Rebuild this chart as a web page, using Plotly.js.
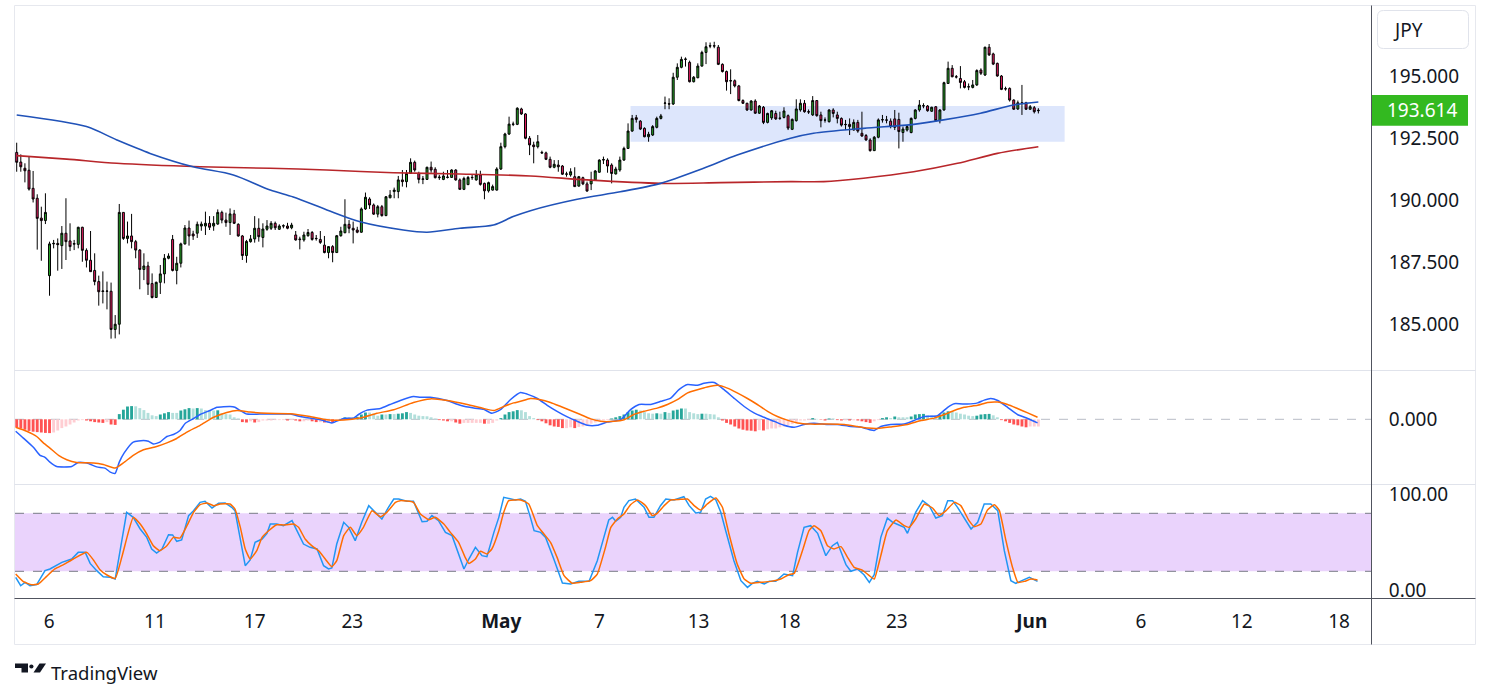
<!DOCTYPE html>
<html><head><meta charset="utf-8">
<script src="https://cdn.plot.ly/plotly-3.0.1.min.js"></script>
<style>html,body{margin:0;padding:0;background:#fff;overflow:hidden}#chart{width:1491px;height:699px}</style>
</head><body><div id="chart"></div>
<script>
// ---------- DATA (GBP/JPY, 4H bars) ----------
const open = [
191.92,191.53,191.28,191.20,190.47,190.07,189.27,189.17,186.95,188.23,
188.25,188.16,188.66,188.35,188.22,188.21,188.90,187.97,187.57,187.16,
186.71,186.31,186.33,186.32,184.78,184.99,189.50,188.45,188.55,188.32,
187.98,187.20,187.34,186.63,186.07,186.68,187.02,187.65,188.41,187.16,
187.45,188.23,188.87,188.63,188.66,188.95,188.95,189.06,188.95,189.03,
189.50,189.19,189.09,189.44,189.02,188.55,187.76,188.32,188.43,188.86,
188.49,188.82,188.86,189.06,188.82,188.95,188.95,188.88,188.59,188.40,
188.39,188.56,188.69,188.44,188.41,188.18,187.88,188.12,187.88,188.56,
188.68,189.02,188.86,188.79,188.70,189.64,190.04,189.80,189.43,189.73,
189.37,190.09,190.34,190.34,190.81,190.74,191.07,191.52,191.07,190.83,
190.83,191.32,191.24,190.90,190.83,190.91,190.91,191.21,190.81,190.43,
190.62,190.90,190.81,191.01,190.67,190.37,190.40,190.40,191.25,192.15,
192.66,193.05,193.05,193.67,193.47,192.49,192.22,192.15,191.92,191.90,
191.64,191.32,191.41,191.37,191.04,191.01,190.94,190.56,190.90,190.65,
190.65,190.81,191.12,191.61,191.61,191.41,191.05,191.21,191.61,192.08,
192.78,193.32,193.18,192.89,192.55,192.62,192.93,193.29,193.90,193.88,
193.87,194.95,195.35,195.67,195.55,194.77,194.93,195.40,195.95,196.22,
196.22,196.16,195.47,195.18,194.80,194.81,194.60,194.01,193.90,193.63,
193.99,193.50,193.74,193.13,193.31,193.49,193.29,193.33,193.40,192.85,
193.20,193.63,193.90,193.56,193.43,194.01,193.43,193.23,193.16,193.63,
193.43,193.29,193.05,193.05,192.82,193.13,192.69,192.60,192.42,191.99,
192.53,193.23,193.23,193.18,193.27,193.25,192.72,192.82,192.72,193.29,
193.63,193.79,193.79,193.58,193.76,193.20,193.63,194.70,195.31,194.97,
194.90,194.77,194.57,194.54,194.64,195.24,195.04,196.16,195.89,195.51,
195.00,194.49,194.50,194.03,193.67,193.92,193.92,193.66,193.72,193.60];
const high = [
192.31,191.84,191.48,191.75,191.17,190.23,189.73,190.27,188.32,188.39,
188.45,188.95,190.07,189.06,188.39,188.92,188.92,188.05,188.75,187.85,
186.95,187.12,186.71,186.67,185.36,189.84,189.50,189.13,189.44,188.39,
188.02,187.85,187.51,187.04,186.71,187.38,187.82,187.85,188.59,187.71,
188.28,188.99,189.17,188.76,189.13,189.13,189.53,189.35,189.35,189.62,
189.57,189.49,189.66,189.60,189.06,188.59,188.39,188.59,189.35,189.26,
189.06,189.19,189.15,189.13,189.02,189.02,189.08,189.08,188.75,188.52,
188.72,188.83,188.75,188.59,188.75,188.55,188.14,188.18,188.59,188.92,
190.03,189.19,189.13,188.92,189.70,190.30,190.11,189.86,189.80,189.80,
190.16,190.40,190.50,190.97,191.21,191.21,191.68,191.59,191.14,190.97,
191.34,191.55,191.32,191.01,191.14,191.21,191.24,191.24,190.87,190.94,
190.97,191.01,191.21,191.18,190.70,190.74,190.62,191.32,192.31,192.71,
193.36,193.16,193.74,193.72,193.50,192.58,192.35,192.62,191.99,191.95,
191.75,191.61,191.61,191.41,191.14,191.28,191.32,190.97,190.94,190.74,
191.14,191.21,191.64,191.75,191.68,191.48,191.34,191.75,192.15,193.09,
193.43,193.43,193.22,192.93,192.75,193.02,193.36,193.47,194.17,194.10,
195.13,195.51,195.78,195.75,195.62,195.00,195.51,196.02,196.36,196.35,
196.38,196.25,195.51,195.22,195.27,194.86,194.64,194.06,193.92,194.03,
194.06,193.83,193.79,193.52,193.63,193.60,193.56,193.74,193.45,193.29,
194.06,194.06,194.03,193.65,194.19,194.02,193.56,193.33,193.66,193.70,
193.56,193.33,193.23,193.29,193.25,193.23,193.56,192.66,192.49,192.58,
193.29,193.43,193.39,193.29,193.63,193.52,192.96,193.02,193.33,193.66,
194.03,193.90,193.83,193.76,193.79,193.66,194.77,195.58,195.44,195.04,
195.40,194.84,194.70,194.84,195.27,195.31,196.18,196.29,195.94,195.54,
195.04,194.57,194.54,194.06,194.01,194.64,193.96,193.83,193.79,193.70];
const low = [
191.14,191.14,190.71,190.38,189.90,188.00,187.55,189.03,186.14,188.05,
187.15,187.22,187.58,187.94,187.98,188.05,187.51,187.28,187.11,186.56,
185.74,185.83,185.59,184.41,184.42,184.58,188.39,188.25,188.05,187.65,
186.40,186.77,186.17,186.03,186.05,186.21,186.64,187.61,187.12,186.60,
187.28,188.20,188.16,188.39,188.47,188.76,188.59,188.79,188.76,189.00,
189.06,188.92,188.59,189.03,188.52,187.58,187.47,188.28,188.28,188.32,
188.09,188.76,188.79,188.79,188.79,188.86,188.82,188.82,188.36,188.01,
188.32,188.52,188.36,188.36,188.23,187.85,187.65,187.49,187.88,188.52,
188.66,188.66,188.25,188.66,188.68,189.60,189.64,189.40,189.30,189.33,
189.35,190.07,190.07,190.07,190.54,190.51,191.05,191.14,190.67,190.64,
190.81,191.10,190.87,190.81,190.80,190.87,190.90,190.78,190.41,190.40,
190.60,190.81,190.78,190.58,190.03,190.30,190.38,190.38,191.21,192.08,
192.62,192.98,193.02,193.43,192.45,191.81,191.48,192.08,191.86,191.61,
191.28,191.28,191.14,191.01,190.94,190.94,190.54,190.54,190.60,190.34,
190.40,190.78,191.10,191.45,191.10,190.67,191.03,191.14,191.58,192.06,
192.75,193.12,192.82,192.53,192.35,192.58,192.89,193.25,193.66,193.66,
193.83,194.84,195.31,195.38,194.74,194.74,194.91,195.38,195.48,196.12,
196.12,195.44,195.14,194.41,194.27,194.54,193.98,193.87,193.59,193.60,
193.47,193.47,193.06,193.09,193.23,193.23,193.23,193.29,192.82,192.82,
193.16,193.56,193.52,193.47,193.39,193.36,192.93,193.12,193.12,193.33,
193.09,192.96,192.82,192.62,192.80,192.71,192.55,192.39,191.95,191.98,
192.49,193.12,193.09,192.89,192.82,192.08,192.35,192.76,192.69,193.25,
193.56,193.70,193.56,193.55,193.16,193.09,193.60,194.68,194.95,194.90,
194.50,194.50,194.43,194.50,194.60,195.04,195.00,195.81,195.44,194.97,
194.43,194.41,193.97,193.63,193.63,193.43,193.63,193.63,193.49,193.49];
const close = [
191.52,191.34,191.18,190.44,190.04,189.26,189.17,189.50,188.23,188.25,
188.20,188.66,188.32,188.12,188.24,188.90,187.97,187.57,187.11,186.71,
186.30,186.33,186.32,184.78,184.99,189.50,188.45,188.55,188.32,187.98,
187.20,187.34,186.60,186.07,186.68,187.02,187.65,187.74,187.16,187.45,
188.23,188.87,188.55,188.55,189.02,189.03,189.06,188.90,189.06,189.50,
189.19,189.09,189.44,189.06,188.55,187.76,188.33,188.43,188.86,188.52,
188.83,188.95,189.06,188.88,188.95,188.96,188.86,188.99,188.39,188.42,
188.59,188.69,188.41,188.45,188.29,187.88,188.12,187.88,188.56,188.75,
189.02,188.86,188.79,188.70,189.64,190.11,189.80,189.43,189.73,189.37,
190.13,190.20,190.40,190.81,190.74,191.07,191.52,191.21,190.83,190.85,
191.32,191.21,190.90,190.92,190.97,190.92,191.21,190.81,190.43,190.87,
190.91,190.91,191.01,190.63,190.37,190.70,190.54,191.25,192.15,192.66,
193.06,193.06,193.70,193.47,192.49,192.22,192.15,192.35,191.90,191.64,
191.32,191.44,191.34,191.04,191.05,191.14,190.54,190.94,190.65,190.36,
190.81,191.17,191.61,191.63,191.37,191.07,191.25,191.61,192.08,192.78,
193.29,193.25,192.86,192.55,192.65,192.96,193.29,193.39,193.91,193.87,
194.95,195.35,195.67,195.68,194.77,194.95,195.40,195.95,196.18,196.21,
196.21,195.47,195.18,194.77,194.81,194.60,194.01,193.90,193.63,193.99,
193.50,193.79,193.13,193.49,193.60,193.27,193.30,193.59,192.90,193.25,
193.67,193.90,193.56,193.55,194.01,193.40,193.20,193.22,193.63,193.49,
193.29,193.02,193.04,192.96,193.13,192.78,192.58,192.42,191.99,192.53,
193.23,193.24,193.22,192.96,192.93,192.76,192.86,192.96,193.29,193.63,
193.83,193.80,193.60,193.74,193.20,193.63,194.73,195.31,194.97,194.96,
194.74,194.54,194.56,194.64,195.22,195.11,196.16,195.85,195.48,195.00,
194.46,194.48,194.03,193.66,193.92,193.90,193.66,193.76,193.56,193.614];

// moving averages (sampled along bar index)
const maBlueX = [1,18,25.4,33.5,44,53.8,62.8,68.4,76.6,84.7,95.2,101,109,117.2,122,126.2,137.6,148.1,157.9,168.4,176.6,189.6,195.2,207.4,219.6,226.9,235.9,244,250];
const maBlueY = [193.43,192.96,192.42,191.88,191.34,191.01,190.40,190.12,189.60,189.12,188.79,188.70,188.86,188.99,189.33,189.57,190.03,190.33,190.67,191.28,191.81,192.49,192.69,192.89,193.05,193.23,193.50,193.83,193.95];
const maRedX = [1,13.2,25.4,45.7,62.8,76.6,92.8,109,126.2,140,157.9,172.5,189.6,197.7,207.4,219.6,230.3,240,250];
const maRedY = [191.79,191.65,191.48,191.34,191.28,191.21,191.10,191.05,190.97,190.81,190.67,190.70,190.74,190.74,190.88,191.14,191.48,191.88,192.15];

// support zone
const zoneFrom = 150.6, zoneTo = 256.4, zoneLow = 192.35, zoneHigh = 193.79;

// MACD
const macdX = [0.75,2.62,5.06,6.69,7.9,9.1,10.75,14.4,16.0,18.1,20.5,22.5,23.8,25.0,26.0,27.2,29.4,31.9,33.1,34.3,35.9,37.6,39.2,40.8,42.1,44.1,45.7,48.1,49.8,53.0,54.2,55.5,57.1,60.3,67.7,70.1,72.5,75.0,77.8,80.7,83.1,84.3,86.4,89.6,92.0,94.5,97.7,99.4,101.8,105.9,109.1,112.4,114.8,116.8,118.9,121.3,123.8,125.4,127.9,130.3,132.7,135.2,137.6,140.1,142.5,144.9,148.2,150.6,152.7,155.5,158.0,160.4,162.4,164.5,166.9,168.5,171.0,173.4,175.8,178.3,180.7,183.1,185.6,188.0,190.5,192.9,195.3,198.6,201.0,204.3,206.7,209.2,210.0,211.6,214.0,217.3,219.7,222.2,225.4,227.9,229.5,232.7,235.2,236.8,238.4,240.1,242.5,244.9,247.4,249.8];
const macdY = [-0.30,-0.47,-0.70,-0.90,-0.95,-1.07,-1.18,-1.18,-1.08,-1.09,-1.19,-1.22,-1.32,-1.35,-1.07,-0.84,-0.57,-0.53,-0.55,-0.62,-0.57,-0.43,-0.38,-0.28,-0.10,0.02,0.12,0.22,0.30,0.32,0.30,0.22,0.13,0.13,0.13,0.07,0.03,-0.01,-0.09,0.02,0.03,0.12,0.23,0.27,0.37,0.47,0.57,0.55,0.55,0.47,0.35,0.28,0.25,0.15,0.24,0.49,0.67,0.63,0.52,0.35,0.20,0.06,-0.05,-0.15,-0.15,-0.07,-0.01,0.24,0.37,0.37,0.45,0.53,0.74,0.87,0.85,0.90,0.92,0.74,0.53,0.32,0.16,0.05,-0.05,-0.15,-0.20,-0.13,-0.10,-0.13,-0.13,-0.18,-0.19,-0.27,-0.28,-0.18,-0.13,-0.12,-0.03,0.07,0.09,0.30,0.39,0.38,0.41,0.48,0.52,0.47,0.30,0.12,0.02,-0.09];
const signalX = [0.75,3.43,5.87,7.5,9.1,11.2,13.2,15.6,19.7,22.1,25.0,27.0,29.4,31.9,35.1,37.6,40.0,42.5,45.7,49.0,52.2,54.7,57.9,62.0,67.7,72.5,76.6,80.7,84.7,88.8,92.9,97.7,101.8,105.9,110.8,114.8,117.3,119.7,122.1,123.8,126.2,128.7,131.1,133.6,136.0,138.4,140.9,143.3,146.6,149.0,151.4,153.9,157.1,159.6,162.0,164.5,166.9,169.3,171.8,174.2,176.6,179.1,181.5,184.0,186.4,188.8,191.3,194.5,198.6,202.7,205.9,208.4,210.8,214.0,218.1,221.4,224.6,227.1,229.5,231.9,235.2,237.6,240.1,242.5,244.9,247.4,249.8];
const signalY = [-0.20,-0.30,-0.43,-0.59,-0.72,-0.90,-1.01,-1.08,-1.09,-1.13,-1.22,-1.09,-0.90,-0.76,-0.68,-0.59,-0.48,-0.32,-0.15,0.05,0.17,0.22,0.18,0.15,0.14,0.07,-0.01,-0.02,0.03,0.15,0.24,0.42,0.51,0.47,0.37,0.27,0.22,0.32,0.41,0.45,0.52,0.49,0.42,0.32,0.22,0.12,0.01,-0.05,-0.05,-0.01,0.12,0.20,0.28,0.37,0.49,0.66,0.74,0.81,0.85,0.78,0.66,0.52,0.37,0.20,0.07,-0.02,-0.09,-0.12,-0.12,-0.13,-0.18,-0.22,-0.23,-0.19,-0.13,-0.03,0.03,0.12,0.22,0.30,0.35,0.42,0.43,0.37,0.27,0.16,0.05];
const histogram = [
-0.20,-0.23,-0.26,-0.29,-0.31,-0.32,-0.33,-0.34,-0.345,-0.33,-0.28,-0.22,-0.18,-0.13,-0.08,-0.03,-0.02,-0.03,-0.05,-0.07,-0.08,-0.09,-0.07,-0.13,-0.14,
0.13,0.24,0.32,0.33,0.325,0.28,0.23,0.16,0.10,0.08,0.12,0.15,0.18,0.16,0.16,0.22,0.25,0.28,0.27,0.28,0.27,0.23,0.22,0.22,0.225,
0.15,0.13,0.12,0.05,0.02,-0.07,-0.08,-0.05,-0.08,-0.07,-0.03,-0.03,-0.03,-0.02,-0.02,-0.02,-0.03,-0.02,-0.03,-0.05,-0.05,-0.03,-0.05,-0.07,-0.07,
-0.08,-0.08,-0.09,-0.03,-0.01,0.05,0.05,0.05,0.06,0.12,0.17,0.17,0.14,0.09,0.12,0.12,0.13,0.13,0.14,0.15,0.18,0.16,0.12,0.09,0.08,
0.075,0.05,0.02,-0.02,-0.03,-0.05,-0.05,-0.08,-0.11,-0.09,-0.09,-0.09,-0.09,-0.09,-0.11,-0.11,-0.09,-0.03,0.03,0.12,0.18,0.20,0.23,0.225,0.18,
0.08,0.03,-0.02,-0.05,-0.10,-0.15,-0.18,-0.19,-0.22,-0.22,-0.20,-0.22,-0.19,-0.18,-0.15,-0.11,-0.08,-0.03,-0.025,-0.02,0.02,0.05,0.08,0.12,0.18,
0.22,0.24,0.22,0.18,0.15,0.14,0.15,0.14,0.18,0.16,0.22,0.24,0.27,0.27,0.18,0.15,0.13,0.14,0.14,0.13,0.12,0.05,-0.03,-0.09,-0.13,
-0.18,-0.23,-0.26,-0.28,-0.285,-0.30,-0.27,-0.28,-0.25,-0.23,-0.23,-0.20,-0.18,-0.15,-0.12,-0.07,-0.03,-0.03,-0.02,0.03,0.01,-0.01,-0.03,0.02,0.02,
-0.02,-0.03,-0.025,-0.03,-0.025,-0.03,-0.05,-0.07,-0.09,-0.05,-0.02,0.03,0.05,0.03,0.07,0.05,0.05,0.05,0.07,0.12,0.13,0.135,0.10,0.10,0.08,
0.12,0.17,0.20,0.20,0.17,0.14,0.12,0.09,0.08,0.09,0.12,0.13,0.135,0.10,0.05,-0.02,-0.05,-0.09,-0.13,-0.15,-0.18,-0.20,-0.18,-0.18,-0.18];

// Stochastic
const stochKX = [0.75,1.97,3.03,4.25,5.87,7.9,9.1,10.3,12.0,14.4,16.0,17.7,18.9,20.5,22.1,23.8,25.0,26.2,27.8,29.4,31.1,32.7,33.9,35.1,36.4,38.0,39.0,40.0,41.2,42.9,44.1,45.7,46.9,48.6,50.2,51.8,53.4,54.2,55.5,56.7,57.9,59.1,60.8,62.0,62.8,64.4,66.0,68.1,69.3,70.9,72.5,74.2,75.8,77.0,77.8,79.0,80.7,81.9,83.5,85.1,86.8,88.4,90.0,91.6,92.9,94.1,96.1,97.7,98.6,99.8,101.0,102.2,103.8,105.5,107.1,108.3,110.0,111.2,112.8,114.4,115.6,117.3,118.5,119.7,121.3,122.5,123.8,125.0,126.2,127.1,128.7,129.9,131.9,134.0,136.0,138.0,140.5,142.5,144.1,145.3,146.2,147.0,148.2,149.0,150.2,151.8,153.9,155.1,156.3,157.9,159.2,161.2,163.6,164.9,166.5,167.7,168.9,170.1,171.4,172.6,173.8,175.8,177.5,179.1,180.3,181.5,183.2,184.4,186.0,188.0,190.1,191.3,192.9,194.5,196.2,198.2,199.8,201.0,203.1,204.3,205.9,207.5,208.8,210.0,211.6,213.2,214.5,215.7,217.3,218.1,220.1,221.8,223.4,225.0,226.6,227.9,229.1,230.3,233.6,235.2,236.8,238.4,240.1,241.7,243.3,244.5,246.2,247.8,249.8];
const stochKY = [13.8,5.1,8.6,5.1,6.2,20.7,22.4,25.1,29.3,32.7,39.6,39.6,28.2,20.7,14.4,13.8,12.0,41.3,81.0,75.8,63.8,55.1,43.1,38.9,43.1,57.9,57.6,51.0,52.4,77.6,82.7,91.3,92.4,85.5,90.3,90.7,86.2,82.7,55.1,25.8,31.7,50.0,53.4,59.3,68.9,68.9,67.2,72.4,62.0,48.2,44.8,43.1,25.8,22.4,23.4,48.2,70.7,65.5,51.7,70.7,87.9,81.0,74.1,86.2,94.8,94.8,92.4,92.4,82.7,71.3,71.7,77.6,72.4,60.3,56.9,43.1,22.4,32.7,44.8,36.2,35.1,60.3,75.8,96.5,94.8,93.8,94.8,92.4,75.8,62.0,60.3,55.1,32.7,7.9,6.9,9.6,9.6,31.0,55.1,73.1,75.8,71.7,75.8,86.2,93.1,94.8,86.2,75.8,75.8,87.9,94.8,93.8,97.2,87.9,80.3,81.0,94.8,97.6,93.8,81.0,62.0,31.0,10.3,3.4,7.6,9.6,6.9,9.6,9.6,17.2,15.5,39.6,65.5,67.2,59.3,36.2,46.5,50.0,26.9,20.0,22.4,16.5,8.6,16.5,55.1,75.1,70.7,68.2,65.5,59.3,81.0,93.1,87.9,75.1,77.6,93.1,93.1,86.2,63.8,70.7,89.6,89.6,82.7,41.3,10.3,7.6,11.0,13.8,9.6];
const stochDX = [0.75,2.62,4.65,6.28,8.3,10.3,12.4,14.8,18.1,19.7,21.3,23.0,25.0,26.6,28.2,29.4,31.1,32.7,34.3,35.9,37.6,39.2,40.8,42.5,44.1,45.7,47.3,49.0,50.6,53.0,54.2,55.5,56.7,57.9,59.5,60.8,62.4,64.4,66.0,68.5,69.7,71.3,72.9,74.6,76.2,77.8,79.0,80.7,82.3,83.9,85.5,87.6,89.6,91.2,93.3,94.5,97.7,99.4,101.4,103.0,105.1,106.7,108.7,110.3,111.2,112.8,114.0,115.6,116.8,118.5,119.7,120.9,123.8,125.8,127.9,129.5,131.1,132.7,134.4,136.4,138.4,140.9,142.5,144.5,145.8,147.4,149.0,150.6,152.3,154.3,155.9,157.1,158.8,160.4,162.8,164.5,166.1,167.7,169.3,171.4,173.0,174.6,176.6,178.3,179.9,182.3,184.8,187.2,189.2,190.5,192.5,194.1,195.3,197.0,198.6,200.2,201.9,203.5,205.1,207.1,208.8,210.0,211.6,213.2,215.3,217.3,218.5,220.1,222.2,224.2,225.8,227.5,229.5,231.1,233.1,234.4,236.0,237.6,239.3,240.5,242.1,243.7,245.0,246.6,248.2,249.8];
const stochDY = [17.2,9.3,6.2,6.9,14.8,22.4,26.9,32.7,39.6,31.7,21.7,16.2,12.7,34.4,60.3,75.8,68.9,58.6,46.5,41.3,46.5,55.1,54.4,67.2,81.0,88.9,90.7,87.9,89.6,89.6,84.4,65.5,43.1,32.7,41.3,55.1,62.0,68.2,67.9,68.9,65.5,53.4,46.5,41.3,32.7,24.8,31.0,56.9,65.5,56.9,65.5,82.7,76.5,81.0,91.3,93.1,91.3,79.3,73.4,75.8,68.9,60.3,50.0,34.4,28.2,32.7,40.7,37.9,43.1,62.0,81.0,93.1,93.8,89.6,67.2,58.6,50.0,34.4,15.5,7.6,8.6,10.3,17.2,44.8,65.5,74.1,79.3,88.9,93.8,87.9,77.6,80.0,87.9,93.8,94.4,94.8,87.9,83.4,89.6,95.8,86.2,58.6,27.6,12.0,7.6,8.6,9.6,12.0,16.5,17.9,41.3,62.0,67.2,62.0,46.5,43.1,45.5,34.4,24.1,21.3,15.5,12.0,36.2,62.0,73.1,67.2,65.5,74.1,89.6,85.5,77.6,82.7,91.3,87.9,72.4,66.2,68.9,83.4,88.9,82.7,51.7,24.1,8.6,9.6,12.0,11.0];
const stochUpper = 80, stochLower = 20;

// axis labels
const priceTicks = [185, 187.5, 190, 192.5, 195];
const timeTickPos = [8.9, 34.7, 59.0, 82.8, 119.1, 143.0, 167.2, 189.4, 215.5, 248.4, 275.0, 299.6, 323.3];
const timeTickText = ['6','11','17','23','<b>May</b>','7','13','18','23','<b>Jun</b>','6','12','18'];
const currency = 'JPY';

// ---------- LAYOUT ----------
const W = 1491, H = 699;
const fx = p => p / W, fy = p => 1 - p / H;
const barIndex = open.map((_, i) => i + 1);
const last = close[close.length - 1];
const font = '"Noto Sans", Roboto, sans-serif';
const txt = '#131722';

const histColors = histogram.map((v, i) => {
  const p = i > 0 ? histogram[i - 1] : 0;
  if (v >= 0) return v > p ? '#26a69a' : '#b2dfdb';
  return v < p ? '#ff5252' : '#ffcdd2';
});

const traces = [
  {type:'candlestick', x:barIndex, open, high, low, close, xaxis:'x', yaxis:'y',
   increasing:{line:{color:'#000', width:1}, fillcolor:'#27a527'},
   decreasing:{line:{color:'#000', width:1}, fillcolor:'#e91e63'},
   whiskerwidth:0, hoverinfo:'skip'},
  {type:'scatter', mode:'lines', x:maRedX, y:maRedY, xaxis:'x', yaxis:'y',
   line:{color:'#b8262a', width:1.6, shape:'spline', smoothing:0.8}},
  {type:'scatter', mode:'lines', x:maBlueX, y:maBlueY, xaxis:'x', yaxis:'y',
   line:{color:'#2052b8', width:1.6, shape:'spline', smoothing:0.8}},
  {type:'bar', x:barIndex, y:histogram, xaxis:'x2', yaxis:'y2', width:0.7,
   marker:{color:histColors, line:{width:0}}},
  {type:'scatter', mode:'lines', x:macdX, y:macdY, xaxis:'x2', yaxis:'y2',
   line:{color:'#2962ff', width:1.5, shape:'spline', smoothing:0.5}},
  {type:'scatter', mode:'lines', x:signalX, y:signalY, xaxis:'x2', yaxis:'y2',
   line:{color:'#ff6d00', width:1.5, shape:'spline', smoothing:0.5}},
  {type:'scatter', mode:'lines', x:stochKX, y:stochKY, xaxis:'x3', yaxis:'y3',
   line:{color:'#2196f3', width:1.5}},
  {type:'scatter', mode:'lines', x:stochDX, y:stochDY, xaxis:'x3', yaxis:'y3',
   line:{color:'#ff6d00', width:1.5, shape:'spline', smoothing:0.4}}
];

const xRange = [0.585, 331.07];
const xDomain = [fx(15), fx(1371)];
const baseX = {domain:xDomain, range:xRange, showgrid:false, zeroline:false, showline:false,
  showticklabels:false, fixedrange:true};
const baseY = {side:'right', showgrid:false, zeroline:false, showline:false, fixedrange:true,
  ticks:'outside', ticklen:13, tickcolor:'rgba(0,0,0,0)', tickfont:{size:19, color:txt, family:font}};

function roundRectPath(x0, y0, x1, y1, r) {
  const P = (x, y) => fx(x) + ',' + fy(y);
  return 'M' + P(x0 + r, y0) + ' L' + P(x1 - r, y0) + ' Q' + P(x1, y0) + ' ' + P(x1, y0 + r) +
    ' L' + P(x1, y1 - r) + ' Q' + P(x1, y1) + ' ' + P(x1 - r, y1) +
    ' L' + P(x0 + r, y1) + ' Q' + P(x0, y1) + ' ' + P(x0, y1 - r) +
    ' L' + P(x0, y0 + r) + ' Q' + P(x0, y0) + ' ' + P(x0 + r, y0) + ' Z';
}
function polyPath(pts) {
  return 'M' + pts.map(p => fx(p[0]) + ',' + fy(p[1])).join(' L') + ' Z';
}

const shapes = [
  // support zone
  {type:'rect', xref:'x', yref:'y', x0:zoneFrom, x1:zoneTo, y0:zoneLow, y1:zoneHigh,
   fillcolor:'#dde6fc', line:{width:0}, layer:'below'},
  // stochastic band
  {type:'rect', xref:'paper', yref:'y3', x0:xDomain[0], x1:xDomain[1], y0:stochLower, y1:stochUpper,
   fillcolor:'#ead3fc', line:{width:0}, layer:'below'},
  {type:'line', xref:'paper', yref:'y3', x0:xDomain[0], x1:xDomain[1], y0:stochUpper, y1:stochUpper,
   line:{color:'#787b86', width:1, dash:'dash'}, layer:'below'},
  {type:'line', xref:'paper', yref:'y3', x0:xDomain[0], x1:xDomain[1], y0:stochLower, y1:stochLower,
   line:{color:'#787b86', width:1, dash:'dash'}, layer:'below'},
  // macd zero line
  {type:'line', xref:'paper', yref:'y2', x0:xDomain[0], x1:xDomain[1], y0:0, y1:0,
   line:{color:'#b8bcc6', width:1, dash:'dash'}, layer:'below'},
  // frame & separators
  {type:'rect', xref:'paper', yref:'paper', x0:fx(14.5), x1:fx(1475.5), y0:fy(644.5), y1:fy(5.5),
   line:{color:'#e6e8ee', width:1}},
  {type:'line', xref:'paper', yref:'paper', x0:fx(14.5), x1:fx(1475.5), y0:fy(370.5), y1:fy(370.5),
   line:{color:'#e0e3eb', width:1}},
  {type:'line', xref:'paper', yref:'paper', x0:fx(14.5), x1:fx(1475.5), y0:fy(484.5), y1:fy(484.5),
   line:{color:'#e0e3eb', width:1}},
  {type:'line', xref:'paper', yref:'paper', x0:fx(14.5), x1:fx(1475.5), y0:fy(598.5), y1:fy(598.5),
   line:{color:'#50535e', width:1}},
  {type:'line', xref:'paper', yref:'paper', x0:fx(1371.5), x1:fx(1371.5), y0:fy(5.5), y1:fy(644.5),
   line:{color:'#50535e', width:1}},
  // currency box
  {type:'path', xref:'paper', yref:'paper', path:roundRectPath(1377.5, 10.5, 1468.5, 48.5, 6),
   line:{color:'#e0e3eb', width:1}, fillcolor:'#ffffff'},
  // last price label
  {type:'rect', xref:'paper', yref:'y', x0:fx(1372), x1:fx(1468), y0:last - 0.62, y1:last + 0.62,
   fillcolor:'#33b920', line:{width:0}},
  // TradingView logo mark
  {type:'path', xref:'paper', yref:'paper', path:polyPath([[15,663.5],[28,663.5],[28,672.5],[21.5,672.5],[21.5,668],[15,668]]),
   fillcolor:txt, line:{width:0}},
  {type:'circle', xref:'paper', yref:'paper', x0:fx(29.3), x1:fx(33.5), y0:fy(668.6), y1:fy(664.4),
   fillcolor:txt, line:{width:0}},
  {type:'path', xref:'paper', yref:'paper', path:polyPath([[33.5,672.5],[39.5,663.5],[46,663.5],[40,672.5]]),
   fillcolor:txt, line:{width:0}}
];

const annotations = [
  {xref:'paper', yref:'paper', x:fx(1391), y:fy(30), xanchor:'left', yanchor:'middle', showarrow:false,
   text:currency, font:{size:19, color:txt, family:font}},
  {xref:'paper', yref:'y', x:fx(1385), y:last, xanchor:'left', yanchor:'middle', showarrow:false,
   text:last.toFixed(3), font:{size:19, color:'#ffffff', family:font}},
  {xref:'paper', yref:'paper', x:fx(49), y:fy(672), xanchor:'left', yanchor:'middle', showarrow:false,
   text:'TradingView', font:{size:18.5, color:txt, family:font}}
];

const layout = {
  width:W, height:H, margin:{l:0, r:0, t:0, b:0}, paper_bgcolor:'#ffffff', plot_bgcolor:'rgba(0,0,0,0)',
  showlegend:false, hovermode:false, dragmode:false, boxgap:0.32,
  font:{family:font, color:txt},
  xaxis:Object.assign({}, baseX, {anchor:'y', rangeslider:{visible:false}}),
  xaxis2:Object.assign({}, baseX, {anchor:'y2'}),
  xaxis3:Object.assign({}, baseX, {anchor:'y3', showticklabels:true, tickmode:'array',
    tickvals:timeTickPos, ticktext:timeTickText, ticks:'outside', ticklen:6,
    tickcolor:'rgba(0,0,0,0)', tickfont:{size:19, color:txt, family:font}}),
  yaxis:Object.assign({}, baseY, {domain:[fy(370), fy(5)], range:[183.145, 197.863], anchor:'x',
    tickmode:'array', tickvals:priceTicks, ticktext:priceTicks.map(v => v.toFixed(3))}),
  yaxis2:Object.assign({}, baseY, {domain:[fy(484), fy(370)], range:[-1.6175, 1.2325], anchor:'x2',
    tickmode:'array', tickvals:[0], ticktext:['0.000']}),
  yaxis3:Object.assign({}, baseY, {domain:[fy(598), fy(484)], range:[-7.6, 110.3], anchor:'x3',
    tickmode:'array', tickvals:[0, 100], ticktext:['0.00', '100.00']}),
  shapes, annotations
};

Plotly.newPlot('chart', traces, layout, {displayModeBar:false, staticPlot:true});
</script>
</body></html>
